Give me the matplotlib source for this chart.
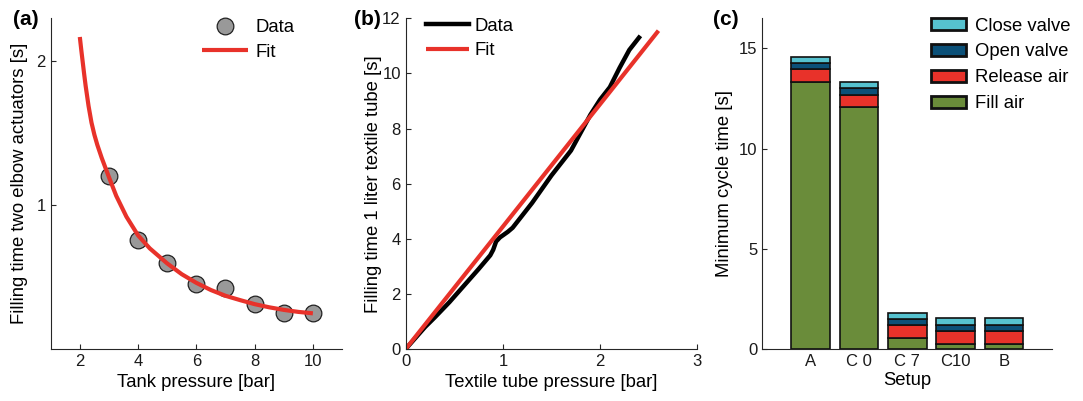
import matplotlib
matplotlib.use('Agg')
import matplotlib.pyplot as plt

plt.rcParams['font.family'] = ['Liberation Sans', 'DejaVu Sans']

# (a) tank pressure vs filling time
tank_p = [3, 4, 5, 6, 7, 8, 9, 10]
fill_t = [1.205, 0.76, 0.595, 0.454, 0.426, 0.311, 0.248, 0.248]
fit_p = [2.0, 2.05, 2.1, 2.15, 2.2, 2.3, 2.4, 2.5, 2.6, 2.75, 3.0, 3.25, 3.6, 4.0, 4.4,
         5.0, 5.5, 6.0, 6.5, 7.0, 7.5, 8.0, 8.5, 9.0, 9.5, 10.0]
fit_t = [2.17, 2.08, 1.995, 1.91, 1.83, 1.69, 1.575, 1.49, 1.42, 1.33, 1.195, 1.065, 0.92, 0.79, 0.70,
         0.595, 0.52, 0.46, 0.41, 0.37, 0.34, 0.312, 0.29, 0.272, 0.258, 0.248]

# (b) textile tube pressure vs filling time
tube_p = [0, 0.1, 0.2, 0.3, 0.45, 0.6, 0.75, 0.87, 0.9, 0.93, 0.97, 1.05, 1.1, 1.2, 1.3,
          1.4, 1.5, 1.6, 1.7, 1.8, 1.9, 2.0, 2.1, 2.2, 2.3, 2.4]
tube_t = [0, 0.4, 0.8, 1.15, 1.7, 2.3, 2.9, 3.4, 3.6, 3.9, 4.05, 4.25, 4.4, 4.85, 5.3,
          5.8, 6.3, 6.75, 7.2, 7.85, 8.5, 9.05, 9.5, 10.2, 10.85, 11.3]
tube_fit_p = [0, 2.6]
tube_fit_t = [0, 11.55]

# (c) minimum cycle time
setups = ['A', 'C 0', 'C 7', 'C10', 'B']
fill_air = [13.34, 12.06, 0.56, 0.25, 0.25]
release_air = [0.62, 0.62, 0.63, 0.63, 0.63]
open_valve = [0.33, 0.33, 0.33, 0.33, 0.33]
close_valve = [0.30, 0.33, 0.30, 0.32, 0.32]

TICK = 12
LAB = 13.3

fig = plt.figure(figsize=(10.83, 4.01), dpi=100)
ax1 = fig.add_axes([0.0468, 0.1297, 0.269, 0.8247])
ax2 = fig.add_axes([0.3746, 0.1297, 0.2693, 0.8247])
ax3 = fig.add_axes([0.7039, 0.1297, 0.2678, 0.8247])

for ax in (ax1, ax2, ax3):
    for s in ('top', 'right'):
        ax.spines[s].set_visible(False)
    for s in ('left', 'bottom'):
        ax.spines[s].set_color('#262626')
        ax.spines[s].set_linewidth(0.8)
    ax.tick_params(direction='in', length=3.5, width=0.8, color='#262626',
                   labelsize=TICK, labelcolor='#1a1a1a')

# panel a
ax1.plot(fit_p, fit_t, color='#e8322a', lw=3, solid_capstyle='butt', zorder=3, label='Fit')
ax1.plot(tank_p, fill_t, 'o', ms=12, mfc='#999999', mec='#222222', mew=0.9, zorder=2, label='Data')
ax1.set_xlim(1, 11)
ax1.set_ylim(0, 2.3)
ax1.set_xticks([2, 4, 6, 8, 10])
ax1.set_yticks([1, 2])
ax1.set_xlabel('Tank pressure [bar]', fontsize=LAB)
ax1.set_ylabel('Filling time two elbow actuators [s]', fontsize=LAB, labelpad=6)
h, l = ax1.get_legend_handles_labels()
ax1.legend(h[::-1], l[::-1], loc='upper left', bbox_to_anchor=(0.486, 1.025), frameon=False,
           fontsize=LAB, handlelength=2.5, handletextpad=0.4, labelspacing=0.4, borderpad=0)

# panel b
ax2.plot(tube_p, tube_t, color='black', lw=3.2, label='Data')
ax2.plot(tube_fit_p, tube_fit_t, color='#e8322a', lw=3, solid_capstyle='butt', label='Fit')
ax2.set_xlim(0, 3)
ax2.set_ylim(0, 12)
ax2.set_xticks([0, 1, 2, 3])
ax2.set_yticks(range(0, 13, 2))
ax2.set_xlabel('Textile tube pressure [bar]', fontsize=LAB)
ax2.set_ylabel('Filling time 1 liter textile tube [s]', fontsize=LAB, labelpad=0)
ax2.legend(loc='upper left', bbox_to_anchor=(0.039, 1.03), frameon=False,
           fontsize=LAB, handlelength=2.3, handletextpad=0.3, labelspacing=0.42, borderpad=0)

# panel c
pos = range(1, len(setups) + 1)
bottom = [0] * len(setups)
parts = [(fill_air, '#6a8c3a', 'Fill air'),
         (release_air, '#e8322a', 'Release air'),
         (open_valve, '#0b5078', 'Open valve'),
         (close_valve, '#56c2cf', 'Close valve')]
for vals, col, name in parts:
    ax3.bar(pos, vals, width=0.8, bottom=bottom, color=col, edgecolor='#111111',
            linewidth=1.2, label=name)
    bottom = [b + v for b, v in zip(bottom, vals)]
ax3.set_xlim(0, 6)
ax3.set_ylim(0, 16.5)
ax3.set_xticks(list(pos))
ax3.set_xticklabels(setups)
ax3.set_yticks([0, 5, 10, 15])
ax3.tick_params(axis='x', length=0)
ax3.set_xlabel('Setup', fontsize=LAB, labelpad=2)
ax3.set_ylabel('Minimum cycle time [s]', fontsize=LAB)
h, l = ax3.get_legend_handles_labels()
leg = ax3.legend(h[::-1], l[::-1], loc='upper left', bbox_to_anchor=(0.549, 1.03), frameon=False,
                 fontsize=LAB, handlelength=1.9, handleheight=0.6, handletextpad=0.5,
                 labelspacing=0.48, borderpad=0)
for p in leg.get_patches():
    p.set_linewidth(2)

fig.text(0.012, 0.975, '(a)', fontsize=15, fontweight='bold', va='top')
fig.text(0.327, 0.975, '(b)', fontsize=15, fontweight='bold', va='top')
fig.text(0.658, 0.975, '(c)', fontsize=15, fontweight='bold', va='top')

fig.savefig('out.png', dpi=100)
